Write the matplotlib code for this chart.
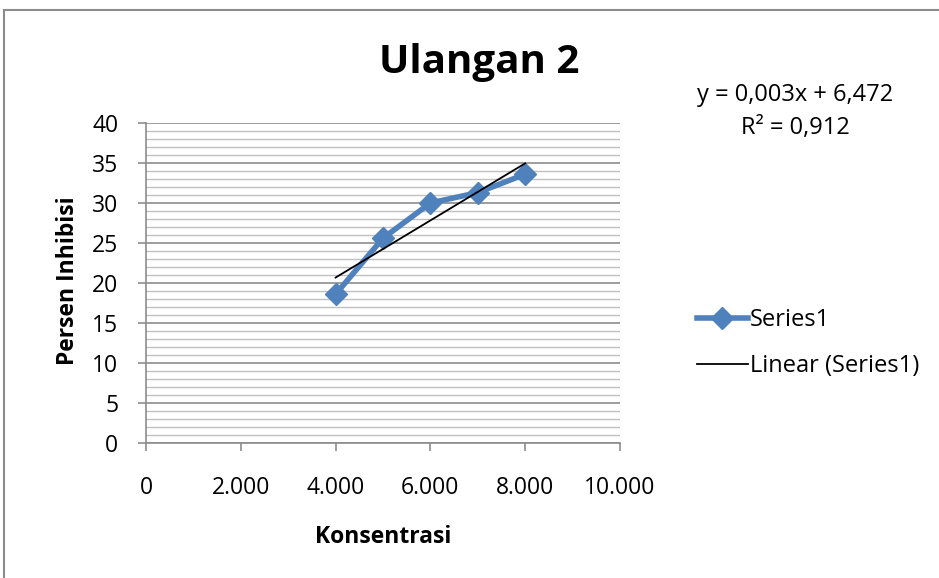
import numpy as np
import matplotlib
matplotlib.use("Agg")
import matplotlib.pyplot as plt
from matplotlib.patches import Rectangle
from matplotlib.ticker import MultipleLocator, FuncFormatter

konsentrasi = [4000, 5000, 6000, 7000, 8000]
inhibisi = [18.6, 25.6, 30.0, 31.3, 33.6]
x_ticks = [0, 2000, 4000, 6000, 8000, 10000]
y_ticks = [0, 5, 10, 15, 20, 25, 30, 35, 40]

plt.rcParams['font.family'] = ['Open Sans', 'DejaVu Sans']

fig = plt.figure(figsize=(9.39, 5.78), dpi=100)
ax = fig.add_axes([146/939, 1-443/578, (620-146)/939, (443-123)/578])

# trendline from the data
slope, intercept = np.polyfit(konsentrasi, inhibisi, 1)
trend_x = np.array([konsentrasi[0], konsentrasi[-1]])
trend_y = slope * trend_x + intercept

ax.plot(konsentrasi, inhibisi, color='#4F81BD', lw=4, marker='D', ms=11,
        label='Series1', zorder=3)
ax.plot(trend_x, trend_y, color='black', lw=1.3, label='Linear (Series1)', zorder=4)

ax.set_xlim(0, 10000)
ax.set_ylim(0, 40)
ax.set_xticks(x_ticks)
ax.set_yticks(y_ticks)
ax.yaxis.set_minor_locator(MultipleLocator(1))
ax.xaxis.set_major_formatter(FuncFormatter(lambda v, p: f"{int(v):,}".replace(",", ".")))

ax.grid(True, which='major', axis='y', color='#8c8c8c', lw=1.2)
ax.grid(True, which='minor', axis='y', color='#c0c0c0', lw=1.0)
ax.set_axisbelow(True)

for s in ['top', 'right']:
    ax.spines[s].set_visible(False)
for s in ['left', 'bottom']:
    ax.spines[s].set_color('#8c8c8c')
    ax.spines[s].set_linewidth(1.2)

ax.tick_params(axis='both', which='major', direction='out', length=6, width=1.2,
               color='#8c8c8c', labelsize=16.5, labelcolor='black')
ax.tick_params(axis='y', which='minor', length=0)
ax.tick_params(axis='x', pad=18)
ax.tick_params(axis='y', pad=14)

ax.set_xlabel('Konsentrasi', fontsize=16.5, fontweight='bold', va='center')
ax.xaxis.set_label_coords(0.5, (443-537)/320)
ax.set_ylabel('Persen Inhibisi', fontsize=16.5, fontweight='bold', va='center', ha='center')
ax.yaxis.set_label_coords((68-146)/474, (443-281)/320)

fig.text(479/939, 1-62/578, 'Ulangan 2', ha='center', va='center',
         fontsize=29, fontweight='bold')

fig.text(795/939, 1-95/578, 'y = 0,003x + 6,472', ha='center', va='center', fontsize=17)
fig.text(795/939, 1-128/578, 'R² = 0,912', ha='center', va='center', fontsize=17)

fig.legend(loc='center left', bbox_to_anchor=(697/939, 1-343/578), frameon=False,
           fontsize=17, handlelength=2.15, labelspacing=0.95, handletextpad=0.1,
           borderpad=0, borderaxespad=0)

fig.add_artist(Rectangle((4/939, -0.1), 2, 1 - 10/578 + 0.1, transform=fig.transFigure,
                         fill=False, edgecolor='#8c8c8c', lw=1.5))

fig.savefig('out.png', dpi=100)
